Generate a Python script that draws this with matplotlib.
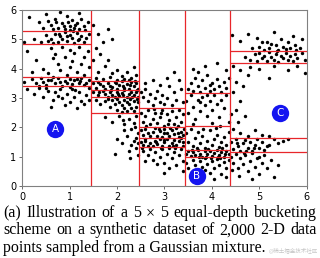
import numpy as np
import matplotlib
matplotlib.use('Agg')
import matplotlib.pyplot as plt

# bucket boundaries
x_edges = [0, 1.45, 2.47, 3.43, 4.37, 6]
y_splits = [
    [3.40, 3.73, 4.84, 5.29],
    [2.50, 3.02, 3.28, 3.59],
    [1.33, 1.65, 2.01, 2.67],
    [0.99, 1.24, 2.03, 3.17],
    [1.16, 1.65, 4.20, 4.61],
]

# points, estimated by eye, one list per column of buckets
col1_pts = [
    (0.15, 5.75), (0.35, 5.6), (0.5, 5.85), (0.6, 5.5), (0.7, 5.7), (0.75, 5.4), (0.85, 5.55),
    (0.9, 5.35), (0.95, 5.8), (1.0, 5.45), (1.05, 5.65), (1.1, 5.4), (1.15, 5.55), (1.2, 5.35),
    (1.25, 5.7), (1.3, 5.45), (1.38, 5.6), (0.65, 5.35), (0.8, 5.95), (1.2, 5.9), (0.45, 5.4),
    (1.0, 5.32), (0.55, 5.62), (1.32, 5.33), (0.88, 5.47), (1.12, 5.5), (0.72, 5.58), (0.97, 5.6),
    (0.05, 4.9), (0.25, 5.0), (0.4, 4.9), (0.5, 5.15), (0.6, 5.0), (0.7, 5.2), (0.75, 4.9),
    (0.8, 5.1), (0.9, 5.25), (0.95, 4.95), (1.0, 5.15), (1.05, 5.05), (1.1, 4.88), (1.15, 5.22),
    (1.2, 5.0), (1.25, 5.12), (1.3, 4.92), (1.4, 5.2), (0.85, 5.0), (0.65, 4.88), (1.08, 5.28),
    (0.55, 4.95), (0.95, 5.1), (1.35, 5.05), (0.78, 5.18), (1.18, 4.98),
    (0.1, 4.6), (0.3, 4.3), (0.45, 4.0), (0.6, 4.7), (0.7, 4.5), (0.75, 4.15), (0.85, 4.75),
    (0.9, 4.4), (1.0, 4.65), (1.05, 4.25), (1.1, 4.55), (1.2, 4.75), (1.3, 4.4), (1.38, 4.6),
    (0.55, 3.85), (0.8, 3.95), (0.95, 3.8), (1.15, 3.9), (1.3, 3.8), (1.4, 4.05), (0.2, 3.9),
    (1.0, 4.05), (0.65, 4.35), (1.25, 4.15),
    (0.05, 3.55), (0.2, 3.65), (0.3, 3.5), (0.4, 3.7), (0.5, 3.45), (0.6, 3.6), (0.7, 3.5),
    (0.75, 3.68), (0.85, 3.42), (0.9, 3.58), (1.0, 3.65), (1.05, 3.48), (1.1, 3.6), (1.2, 3.5),
    (1.25, 3.7), (1.3, 3.44), (1.4, 3.6), (0.95, 3.52), (0.55, 3.62), (1.15, 3.66), (0.35, 3.42),
    (0.8, 3.55), (1.35, 3.52), (0.65, 3.72), (0.45, 3.56), (1.22, 3.58),
    (0.1, 3.3), (0.25, 3.15), (0.35, 3.35), (0.45, 3.05), (0.55, 3.25), (0.65, 2.95), (0.7, 3.2),
    (0.8, 3.32), (0.85, 3.0), (0.95, 3.15), (1.0, 2.85), (1.05, 3.3), (1.1, 3.05), (1.2, 3.2),
    (1.25, 2.9), (1.35, 3.1), (1.4, 3.35), (0.6, 2.7), (0.9, 2.75), (1.15, 2.65), (1.3, 2.8),
    (1.0, 3.38), (0.5, 3.35), (1.42, 2.95), (0.75, 3.08), (1.12, 3.28),
]
col2_pts = [
    (1.5, 5.5), (1.6, 5.2), (1.7, 4.9), (1.55, 4.7), (1.8, 5.35), (1.9, 5.0), (1.65, 4.5),
    (1.5, 4.3), (1.75, 4.1), (1.6, 3.9), (1.9, 3.85), (2.0, 3.95), (2.1, 3.75), (2.2, 3.9),
    (2.3, 3.7), (2.4, 3.8), (1.55, 3.7), (1.7, 3.65), (1.85, 3.72), (2.0, 3.62), (2.15, 3.65),
    (2.35, 4.05), (1.8, 4.3), (2.25, 3.62),
    (1.5, 3.5), (1.55, 3.35), (1.6, 3.55), (1.7, 3.4), (1.75, 3.3), (1.8, 3.5), (1.9, 3.38),
    (1.95, 3.55), (2.0, 3.3), (2.05, 3.45), (2.1, 3.57), (2.15, 3.35), (2.2, 3.48), (2.25, 3.3),
    (2.3, 3.55), (2.35, 3.4), (2.4, 3.5), (2.45, 3.32), (1.65, 3.48), (1.85, 3.42), (2.12, 3.42),
    (2.28, 3.45), (1.98, 3.5), (2.38, 3.57),
    (1.5, 3.2), (1.6, 3.1), (1.7, 3.25), (1.8, 3.05), (1.85, 3.2), (1.9, 3.12), (2.0, 3.22),
    (2.05, 3.08), (2.1, 3.18), (2.15, 3.27), (2.2, 3.05), (2.25, 3.15), (2.3, 3.22), (2.35, 3.1),
    (2.4, 3.2), (2.45, 3.05), (1.95, 3.04), (1.75, 3.15), (2.12, 3.12), (2.32, 3.03), (1.62, 3.22),
    (2.42, 3.26), (2.02, 3.15), (1.88, 3.26),
    (1.55, 2.95), (1.65, 2.8), (1.75, 2.9), (1.85, 2.7), (1.9, 2.95), (2.0, 2.6), (2.05, 2.85),
    (2.1, 2.75), (2.15, 2.95), (2.2, 2.55), (2.25, 2.8), (2.3, 2.65), (2.35, 2.9), (2.4, 2.7),
    (2.45, 2.85), (2.1, 2.52), (2.35, 2.55), (2.0, 2.98), (2.2, 2.88), (1.95, 2.78), (2.42, 2.98),
    (2.28, 2.96), (1.8, 2.98), (2.15, 2.65),
    (1.75, 2.35), (1.9, 2.2), (2.05, 2.4), (2.15, 2.1), (2.25, 2.3), (2.35, 2.15), (2.4, 2.4),
    (2.3, 1.95), (2.45, 1.8), (2.2, 1.7), (2.35, 1.55), (2.1, 1.45), (2.4, 1.3), (2.25, 1.2),
    (2.45, 1.05), (2.0, 1.6), (2.3, 1.4), (2.4, 1.65), (2.15, 1.9), (1.95, 1.1), (2.38, 2.0),
    (2.44, 1.45), (2.28, 0.95), (2.12, 2.25),
]
col3_pts = [
    (2.5, 3.2), (2.55, 3.05), (2.6, 3.3), (2.65, 2.9), (2.7, 3.15), (2.75, 2.75), (2.8, 3.0),
    (2.85, 3.25), (2.9, 2.85), (2.95, 3.1), (3.0, 2.8), (3.05, 3.0), (3.1, 3.4), (3.15, 2.75),
    (3.2, 3.2), (3.25, 2.95), (3.3, 3.6), (3.35, 3.3), (3.4, 2.85), (2.6, 3.5), (2.75, 3.6),
    (2.9, 3.45), (3.05, 3.7), (3.2, 3.9),
    (2.5, 2.5), (2.55, 2.2), (2.6, 2.4), (2.65, 2.6), (2.7, 2.1), (2.75, 2.3), (2.8, 2.5),
    (2.85, 2.15), (2.9, 2.35), (2.95, 2.6), (3.0, 2.05), (3.05, 2.45), (3.1, 2.25), (3.15, 2.55),
    (3.2, 2.1), (3.25, 2.35), (3.3, 2.6), (3.35, 2.2), (3.4, 2.45), (2.78, 2.62), (3.08, 2.12),
    (2.62, 2.05), (3.28, 2.05), (2.92, 2.48),
    (2.5, 1.9), (2.55, 1.75), (2.6, 1.95), (2.7, 1.7), (2.75, 1.85), (2.8, 1.98), (2.85, 1.72),
    (2.9, 1.88), (2.95, 1.68), (3.0, 1.95), (3.05, 1.8), (3.1, 1.7), (3.15, 1.9), (3.2, 1.78),
    (3.25, 1.98), (3.3, 1.67), (3.35, 1.85), (3.4, 1.75), (2.65, 1.82), (2.88, 1.95), (3.12, 1.99),
    (3.28, 1.8), (2.98, 1.82), (3.42, 1.93),
    (2.5, 1.5), (2.55, 1.4), (2.6, 1.6), (2.7, 1.45), (2.75, 1.35), (2.8, 1.55), (2.85, 1.42),
    (2.9, 1.62), (2.95, 1.38), (3.0, 1.5), (3.05, 1.6), (3.1, 1.35), (3.15, 1.48), (3.2, 1.58),
    (3.25, 1.4), (3.3, 1.52), (3.35, 1.63), (3.4, 1.38), (2.65, 1.36), (2.98, 1.56), (3.18, 1.36),
    (2.82, 1.5), (3.38, 1.5), (2.58, 1.55),
    (2.55, 1.2), (2.65, 1.05), (2.7, 1.25), (2.75, 0.9), (2.8, 1.15), (2.9, 1.0), (2.95, 1.25),
    (3.0, 0.8), (3.05, 1.1), (3.1, 1.28), (3.15, 0.95), (3.2, 1.15), (3.25, 0.7), (3.3, 1.05),
    (3.35, 1.25), (3.4, 0.85), (2.85, 0.75), (3.1, 0.6), (2.6, 0.85), (3.0, 0.45), (3.38, 0.5),
    (2.52, 1.3), (3.22, 1.3), (2.92, 1.3),
]
col4_pts = [
    (3.5, 3.3), (3.55, 3.5), (3.6, 3.25), (3.65, 3.7), (3.7, 3.4), (3.75, 3.2), (3.8, 3.6),
    (3.85, 3.35), (3.9, 3.8), (3.95, 3.25), (4.0, 3.5), (4.05, 3.3), (4.1, 3.65), (4.15, 3.4),
    (4.2, 3.22), (4.25, 3.55), (4.3, 3.35), (4.35, 3.7), (3.6, 4.0), (3.85, 4.1), (4.1, 4.2),
    (4.3, 3.95), (3.7, 3.9), (3.95, 3.45),
    (3.45, 2.9), (3.5, 2.5), (3.55, 3.1), (3.6, 2.7), (3.65, 2.3), (3.7, 2.95), (3.75, 2.55),
    (3.8, 3.05), (3.85, 2.75), (3.9, 2.4), (3.95, 2.9), (4.0, 2.6), (4.05, 3.1), (4.1, 2.8),
    (4.15, 2.35), (4.2, 2.95), (4.25, 2.65), (4.3, 3.1), (4.35, 2.2), (3.6, 2.1), (4.0, 2.15),
    (3.75, 2.85), (4.18, 2.05), (3.9, 3.12),
    (3.45, 1.8), (3.5, 1.5), (3.55, 1.95), (3.6, 1.35), (3.65, 1.65), (3.7, 1.85), (3.75, 1.45),
    (3.8, 1.7), (3.85, 1.3), (3.9, 1.55), (3.95, 1.9), (4.0, 1.4), (4.05, 1.6), (4.1, 1.75),
    (4.15, 1.32), (4.2, 1.5), (4.25, 1.68), (4.3, 1.4), (4.35, 1.85), (3.68, 1.28), (3.92, 1.27),
    (4.22, 1.28), (4.08, 1.98), (3.82, 1.95),
    (3.45, 1.1), (3.5, 1.2), (3.55, 1.02), (3.6, 1.15), (3.65, 1.05), (3.7, 1.22), (3.75, 1.1),
    (3.8, 1.0), (3.85, 1.18), (3.9, 1.08), (3.95, 1.2), (4.0, 1.02), (4.05, 1.12), (4.1, 1.22),
    (4.15, 1.05), (4.2, 1.15), (4.25, 1.0), (4.3, 1.2), (4.35, 1.1), (3.58, 1.22), (3.88, 1.0),
    (4.12, 1.0), (4.28, 1.08), (3.72, 1.0),
    (3.45, 0.8), (3.5, 0.6), (3.6, 0.9), (3.65, 0.7), (3.7, 0.5), (3.75, 0.85), (3.8, 0.65),
    (3.85, 0.95), (3.9, 0.75), (3.95, 0.45), (4.0, 0.85), (4.05, 0.6), (4.1, 0.92), (4.15, 0.7),
    (4.2, 0.4), (4.25, 0.82), (4.3, 0.6), (4.35, 0.9), (3.55, 0.35), (4.05, 0.25), (4.3, 0.3),
    (3.85, 0.55), (4.18, 0.95), (3.98, 0.97),
]
col5_pts = [
    (4.6, 4.95), (4.75, 5.2), (4.85, 4.7), (4.95, 5.05), (5.0, 4.75), (5.1, 4.65), (5.15, 4.9),
    (5.2, 4.7), (5.3, 5.25), (5.35, 4.8), (5.4, 4.65), (5.45, 5.0), (5.5, 4.75), (5.55, 4.68),
    (5.6, 4.9), (5.65, 4.72), (5.7, 5.1), (5.75, 4.8), (5.85, 4.7), (5.9, 5.0), (4.42, 5.15),
    (5.25, 4.85), (5.78, 4.65), (5.05, 4.9),
    (4.7, 4.4), (4.8, 4.3), (4.9, 4.5), (4.95, 4.25), (5.0, 4.55), (5.05, 4.35), (5.1, 4.45),
    (5.15, 4.25), (5.2, 4.58), (5.25, 4.4), (5.3, 4.3), (5.35, 4.5), (5.4, 4.22), (5.45, 4.45),
    (5.5, 4.35), (5.55, 4.55), (5.6, 4.3), (5.65, 4.45), (5.7, 4.25), (5.75, 4.5), (5.8, 4.38),
    (5.9, 4.55), (5.95, 4.3), (5.38, 4.6),
    (4.45, 4.1), (4.6, 3.95), (4.8, 4.05), (5.0, 4.0), (5.3, 4.1), (5.6, 3.95), (5.95, 3.85),
    (4.75, 3.8), (5.2, 3.7), (4.5, 3.55), (4.45, 3.2), (4.6, 2.9), (4.5, 2.6), (4.7, 2.4),
    (4.55, 2.2), (4.45, 1.95), (4.6, 1.8), (4.75, 1.7), (4.9, 1.9), (5.05, 1.75), (5.2, 1.7),
    (4.4, 2.45), (5.8, 4.1), (4.65, 3.4),
    (4.4, 1.5), (4.45, 1.25), (4.5, 1.6), (4.55, 1.35), (4.6, 1.2), (4.65, 1.45), (4.7, 1.58),
    (4.75, 1.3), (4.8, 1.5), (4.85, 1.2), (4.9, 1.4), (4.95, 1.62), (5.0, 1.3), (5.05, 1.5),
    (5.1, 1.22), (5.2, 1.4), (5.3, 1.6), (5.4, 1.45), (5.5, 1.55), (5.6, 1.62), (4.52, 1.48),
    (4.72, 1.18), (4.88, 1.3), (5.15, 1.35),
    (4.4, 1.0), (4.45, 0.8), (4.5, 1.1), (4.55, 0.6), (4.6, 0.95), (4.65, 0.75), (4.7, 1.05),
    (4.75, 0.5), (4.8, 0.85), (4.85, 1.12), (4.9, 0.65), (4.95, 0.95), (5.0, 0.4), (5.05, 0.8),
    (5.1, 1.05), (5.15, 0.6), (5.25, 0.9), (4.58, 0.35), (4.85, 0.25), (5.4, 0.7), (4.42, 0.55),
    (4.68, 1.12), (5.0, 1.0), (5.3, 0.3),
]

marker_labels = ['A', 'B', 'C']
marker_x = [0.7, 3.68, 5.43]
marker_y = [1.95, 0.34, 2.5]

caption = ['(a) Illustration of a 5 \u00d7 5 equal-depth bucketing',
           'scheme on a synthetic dataset of 2,000 2-D data',
           'points sampled from a Gaussian mixture.']

fig = plt.figure(figsize=(3.2, 2.58), dpi=100)
ax = fig.add_axes([0.069, 0.279, 0.89, 0.682])

pts = np.array(col1_pts + col2_pts + col3_pts + col4_pts + col5_pts)
ax.scatter(pts[:, 0], pts[:, 1], s=6, c='black', linewidths=0, zorder=2)

# equal-depth buckets: vertical column edges, then horizontal splits per column
ax.vlines(x_edges[1:-1], 0, 6, colors='#e8262a', lw=0.9, zorder=3)
for i, ys in enumerate(y_splits):
    ax.hlines(ys, x_edges[i], x_edges[i + 1], colors='#e8262a', lw=0.9, zorder=3)

for lab, mx, my in zip(marker_labels, marker_x, marker_y):
    ax.plot(mx, my, 'o', ms=12.5, color='#1414f0', mec='none', zorder=4)
    ax.text(mx, my, lab, color='white', fontsize=7.5, ha='center', va='center', zorder=5)

ax.set_xlim(0, 6)
ax.set_ylim(0, 6)
ax.set_xticks(range(7))
ax.set_yticks(range(7))
ax.tick_params(labelsize=7, length=2.5, width=0.6, color='#555555', pad=1.5)
for sp in ax.spines.values():
    sp.set_color('#808080')
    sp.set_linewidth(0.8)
    sp.set_zorder(4)

# caption, first two lines justified to the full width
renderer = fig.canvas.get_renderer()
baselines = [0.159, 0.092, 0.024]
x0, x1 = 3 / 320, 317 / 320
fs = 11.5
for k, (line, yb) in enumerate(zip(caption, baselines)):
    if k == len(caption) - 1:
        fig.text(x0, yb, line, fontsize=fs, family='Liberation Serif', va='baseline')
        continue
    words = line.split(' ')
    arts = [fig.text(0, yb, w, fontsize=fs, family='Liberation Serif', va='baseline') for w in words]
    widths = [a.get_window_extent(renderer).width / fig.bbox.width for a in arts]
    gap = (x1 - x0 - sum(widths)) / (len(words) - 1)
    xpos = x0
    for a, w in zip(arts, widths):
        a.set_x(xpos)
        xpos += w + gap

fig.text(0.995, 0.03, '@稀土掘金技术社区', fontsize=4, color='#c0c0c0', ha='right',
         va='center', family=['Noto Sans CJK SC', 'DejaVu Sans'], alpha=0.9)

fig.savefig('out.png', dpi=100)
